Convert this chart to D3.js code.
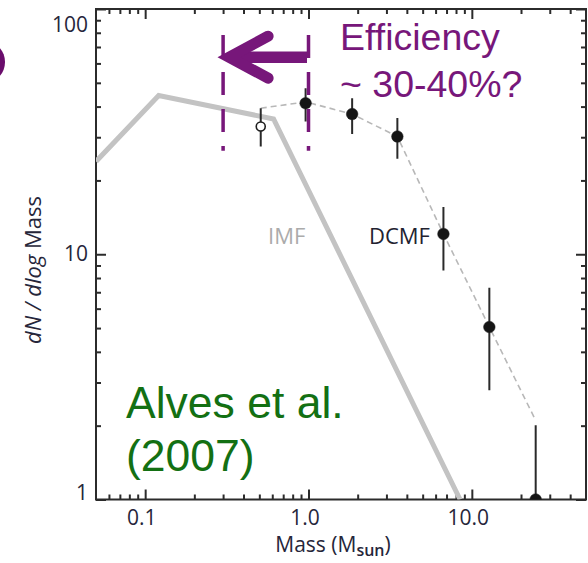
<!DOCTYPE html>
<html>
<head>
<meta charset="utf-8">
<script src="https://cdn.jsdelivr.net/npm/d3@7"></script>
<style>
  html, body { margin: 0; padding: 0; background: #fff; }
  svg { display: block; }
</style>
</head>
<body>
<svg id="chart" width="588" height="563"></svg>
<script>
// Mass function data (masses in solar masses, dN / dlog Mass)
const imfMass  = [0.05, 0.121, 0.611, 8.47];
const imfValue = [23.9, 44.4, 35.6, 1.0];

const dcmfMass  = [0.51, 0.96, 1.85, 3.5, 6.7, 12.8, 24.6];
const dcmfValue = [33.2, 41.3, 37.3, 30.2, 12.1, 5.05, 1.0];
const dcmfLow   = [27.5, 34.8, 30.9, 24.5, 8.58, 2.79, 1.0];
const dcmfHigh  = [39.4, 47.5, 43.3, 35.9, 15.6, 7.30, 2.01];
const dcmfOpen  = [true, false, false, false, false, false, false];

const fitMass  = [0.51, 0.96, 1.85, 3.5, 6.7, 12.8, 24.6];
const fitValue = [39.4, 41.8, 37.3, 30.2, 12.1, 5.05, 2.1];

// Efficiency shift: core masses (0.3–1.0) map onto stellar masses
const shiftMass  = [0.3, 1.0];
const shiftRange = [26.4, 78.4];
const shiftArrowValue = 63.6;

const xMajor = [0.1, 1, 10];
const xMajorLabels = ["0.1", "1.0", "10.0"];
const xMinor = [0.06, 0.07, 0.08, 0.09, 0.2, 0.3, 0.4, 0.5, 0.6, 0.7, 0.8, 0.9,
                2, 3, 4, 5, 6, 7, 8, 9, 20, 30, 40];
const yMajor = [1, 10, 100];
const yMajorLabels = ["1", "10", "100"];
const yMinor = [2, 3, 4, 5, 6, 7, 8, 9, 20, 30, 40, 50, 60, 70, 80, 90];

const pL = 96, pR = 586, pT = 9, pB = 499.5;
const x = d3.scaleLog().domain([0.05, 50]).range([pL, pR]);
const y = d3.scaleLog().domain([1, 100]).range([pB, pT]);

const svg = d3.select("#chart");
const FONT = "'Open Sans', 'Noto Sans', sans-serif";
const AXIS_COLOR = "#2b2b2b";
const PURPLE = "#77177a";

svg.append("defs").append("clipPath").attr("id", "plotClip")
  .append("rect").attr("x", pL).attr("y", pT)
  .attr("width", pR - pL).attr("height", pB - pT);

// Partial purple glyph at the page edge
svg.append("ellipse")
  .attr("cx", -13).attr("cy", 62).attr("rx", 18).attr("ry", 20)
  .attr("fill", "#6a0d6c");

// Axes: major and minor ticks on all four sides, pointing inward
function styleAxis(g) {
  g.selectAll(".domain").remove();
  g.selectAll(".tick line").attr("stroke", AXIS_COLOR).attr("stroke-width", 2);
  g.selectAll("text").attr("font-family", FONT).attr("font-size", 21).attr("fill", "#26263a");
}

const gAxes = svg.append("g");

gAxes.append("g").attr("transform", `translate(0,${pB})`)
  .call(d3.axisBottom(x).tickValues(xMajor).tickSizeInner(-10).tickSizeOuter(0).tickPadding(11)
    .tickFormat((d, i) => xMajorLabels[i]))
  .call(styleAxis)
  .call(g => g.selectAll("text").attr("dx", -4));
gAxes.append("g").attr("transform", `translate(0,${pB})`)
  .call(d3.axisBottom(x).tickValues(xMinor).tickSizeInner(-5).tickSizeOuter(0).tickFormat(""))
  .call(styleAxis);

gAxes.append("g").attr("transform", `translate(0,${pT})`)
  .call(d3.axisTop(x).tickValues(xMajor).tickSizeInner(-10).tickSizeOuter(0).tickFormat(""))
  .call(styleAxis);
gAxes.append("g").attr("transform", `translate(0,${pT})`)
  .call(d3.axisTop(x).tickValues(xMinor).tickSizeInner(-5).tickSizeOuter(0).tickFormat(""))
  .call(styleAxis);

gAxes.append("g").attr("transform", `translate(${pL},0)`)
  .call(d3.axisLeft(y).tickValues(yMajor).tickSizeInner(-10).tickSizeOuter(0).tickPadding(8)
    .tickFormat((d, i) => yMajorLabels[i]))
  .call(styleAxis)
  .call(g => g.selectAll(".tick text").attr("dy", d => d === 100 ? "1.05em" : d === 1 ? "-0.02em" : "0.32em"));
gAxes.append("g").attr("transform", `translate(${pL},0)`)
  .call(d3.axisLeft(y).tickValues(yMinor).tickSizeInner(-5).tickSizeOuter(0).tickFormat(""))
  .call(styleAxis);

gAxes.append("g").attr("transform", `translate(${pR},0)`)
  .call(d3.axisRight(y).tickValues(yMajor).tickSizeInner(-10).tickSizeOuter(0).tickFormat(""))
  .call(styleAxis);
gAxes.append("g").attr("transform", `translate(${pR},0)`)
  .call(d3.axisRight(y).tickValues(yMinor).tickSizeInner(-5).tickSizeOuter(0).tickFormat(""))
  .call(styleAxis);

// Frame
svg.append("rect")
  .attr("x", pL).attr("y", pT)
  .attr("width", pR - pL).attr("height", pB - pT)
  .attr("fill", "none").attr("stroke", AXIS_COLOR).attr("stroke-width", 2);

const plot = svg.append("g").attr("clip-path", "url(#plotClip)");

// Stellar IMF
const line = d3.line().x(d => x(d[0])).y(d => y(d[1]));
plot.append("path")
  .datum(imfMass.map((m, i) => [m, imfValue[i]]))
  .attr("d", line)
  .attr("fill", "none").attr("stroke", "#c3c3c3").attr("stroke-width", 5)
  .attr("stroke-linejoin", "miter");

// DCMF fit (dashed)
plot.append("path")
  .datum(fitMass.map((m, i) => [m, fitValue[i]]))
  .attr("d", line)
  .attr("fill", "none").attr("stroke", "#b8b8b8").attr("stroke-width", 1.6)
  .attr("stroke-dasharray", "6,4");

// DCMF points with error bars
const pts = dcmfMass.map((m, i) => ({ m, v: dcmfValue[i], lo: dcmfLow[i], hi: dcmfHigh[i], open: dcmfOpen[i] }));
plot.selectAll(".err").data(pts).join("line")
  .attr("x1", d => x(d.m)).attr("x2", d => x(d.m))
  .attr("y1", d => y(d.lo)).attr("y2", d => y(d.hi))
  .attr("stroke", "#2a2a2a").attr("stroke-width", 2);
plot.selectAll(".pt").data(pts).join("circle")
  .attr("cx", d => x(d.m)).attr("cy", d => y(d.v))
  .attr("r", d => d.open ? 4.5 : 5.8)
  .attr("fill", d => d.open ? "#fff" : "#151515")
  .attr("stroke", "#1f1f1f").attr("stroke-width", d => d.open ? 1.6 : 0.5);

// Curve labels
svg.append("text").attr("x", 268).attr("y", 243.5)
  .attr("font-family", FONT).attr("font-size", 22).attr("fill", "#ababab").text("IMF");
svg.append("text").attr("x", 369).attr("y", 244)
  .attr("font-family", FONT).attr("font-size", 22).attr("fill", "#222230").text("DCMF");

// Efficiency shift markers
svg.selectAll(".shift").data(shiftMass).join("line")
  .attr("x1", d => x(d)).attr("x2", d => x(d))
  .attr("y1", y(shiftRange[1])).attr("y2", y(shiftRange[0]))
  .attr("stroke", PURPLE).attr("stroke-width", 3.5)
  .attr("stroke-dasharray", "23,14");

const ax0 = x(shiftMass[1]) - 1.5, ax1 = x(shiftMass[0]) + 2, ay = y(shiftArrowValue);
svg.append("line")
  .attr("x1", ax0).attr("x2", ax1 + 10).attr("y1", ay).attr("y2", ay)
  .attr("stroke", PURPLE).attr("stroke-width", 11.5);
svg.append("path")
  .attr("d", `M${ax1 + 43},${ay - 21} L${ax1 + 4},${ay} L${ax1 + 43},${ay + 21}`)
  .attr("fill", "none").attr("stroke", PURPLE).attr("stroke-width", 11)
  .attr("stroke-linecap", "round").attr("stroke-linejoin", "miter");

const eff = svg.append("text")
  .attr("font-family", "'Liberation Sans', Arial, sans-serif")
  .attr("font-size", 37.5).attr("fill", PURPLE);
eff.append("tspan").attr("x", 340).attr("y", 50).text("Efficiency");
eff.append("tspan").attr("x", 340).attr("y", 96.5).text("~ 30-40%?");

const ref = svg.append("text")
  .attr("font-family", "'Liberation Sans', Arial, sans-serif")
  .attr("font-size", 44.5).attr("fill", "#137013");
ref.append("tspan").attr("x", 126).attr("y", 418).text("Alves et al.");
ref.append("tspan").attr("x", 126).attr("y", 471).text("(2007)");

// Axis titles
const xt = svg.append("text")
  .attr("x", 333).attr("y", 552).attr("text-anchor", "middle")
  .attr("font-family", FONT).attr("font-size", 21).attr("fill", "#26263a");
xt.append("tspan").text("Mass (M");
xt.append("tspan").attr("font-size", 16).attr("font-weight", 600).attr("dy", 3.5).text("sun");
xt.append("tspan").attr("dy", -3.5).text(")");

const yt = svg.append("text")
  .attr("transform", "translate(41,270) rotate(-90)")
  .attr("text-anchor", "middle")
  .attr("font-family", FONT).attr("font-size", 22).attr("fill", "#26263a");
yt.append("tspan").attr("font-style", "italic").text("dN / dlog");
yt.append("tspan").text(" Mass");
</script>
</body>
</html>
